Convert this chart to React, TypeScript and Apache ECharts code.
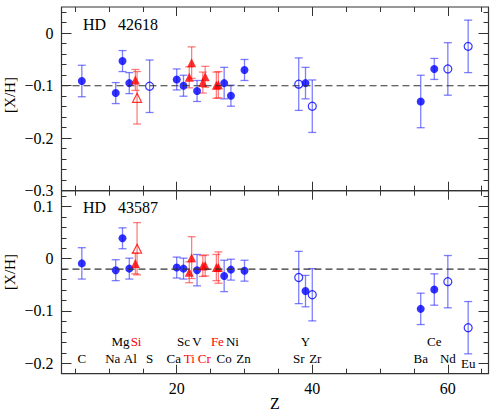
import React, { useEffect, useRef } from 'react';
import * as echarts from 'echarts';

// ---------- data ----------
const starTop = 'HD\u00a0\u00a0 42618';
const starBottom = 'HD\u00a0\u00a0 43587';

// Z axis
const X_MIN = 3;
const X_MAX = 66;
const xMajorTicks = [20, 40, 60];
const xMinorTicks = [5, 10, 15, 25, 30, 35, 45, 50, 55, 65];

// [X/H] ranges and ticks
const topYRange = [-0.3, 0.05];
const bottomYRange = [-0.22, 0.13];
const topYMajor = [-0.3, -0.2, -0.1, 0];
const bottomYMajor = [-0.2, -0.1, 0, 0.1];

// [Z, [X/H], error]  — HD 42618
const topBlueFilled = [
  [6, -0.091, 0.03], [11, -0.114, 0.02], [12, -0.053, 0.02], [13, -0.095, 0.02],
  [20, -0.088, 0.02], [21, -0.1, 0.02], [23, -0.11, 0.02], [27, -0.095, 0.03],
  [28, -0.119, 0.02], [30, -0.07, 0.02], [39, -0.095, 0.03], [56, -0.13, 0.05],
  [58, -0.068, 0.02],
];
const topBlueOpen = [
  [16, -0.101, 0.05], [38, -0.097, 0.05], [40, -0.139, 0.05], [60, -0.068, 0.05], [63, -0.025, 0.05],
];
const topRedFilled = [
  [13.9, -0.089, 0.02], [21.85, -0.084, 0.02], [22.2, -0.056, 0.03], [23.85, -0.094, 0.02],
  [24.2, -0.083, 0.02], [25.85, -0.099, 0.025], [26.15, -0.098, 0.025],
];
const topRedOpen = [[14.15, -0.123, 0.05]];
const topMean = -0.1;

// [Z, [X/H], error]  — HD 43587
const bottomBlueFilled = [
  [6, -0.009, 0.03], [11, -0.022, 0.02], [12, 0.039, 0.02], [13, -0.019, 0.02],
  [20, -0.017, 0.02], [21, -0.019, 0.02], [23, -0.022, 0.03], [27, -0.033, 0.03],
  [28, -0.021, 0.02], [30, -0.023, 0.02], [39, -0.062, 0.03], [56, -0.096, 0.03],
  [58, -0.059, 0.03],
];
const bottomBlueOpen = [
  [38, -0.036, 0.05], [40, -0.069, 0.05], [60, -0.044, 0.05], [63, -0.132, 0.05],
];
const bottomRedFilled = [
  [13.9, -0.009, 0.02], [21.85, -0.026, 0.02], [22.2, 0.002, 0.04], [23.85, -0.014, 0.02],
  [24.2, -0.013, 0.02], [25.85, -0.017, 0.025], [26.15, -0.017, 0.03],
];
const bottomRedOpen = [[14.15, 0.019, 0.05]];
const bottomMean = -0.02;

// element labels
const elementZ: Record<string, number> = {
  C: 6, Na: 11, Mg: 12, Al: 13, Si: 14, S: 16, Ca: 20, Sc: 21, Ti: 22, V: 23, Cr: 24,
  Fe: 26, Co: 27, Ni: 28, Zn: 30, Sr: 38, Y: 39, Zr: 40, Ba: 56, Ce: 58, Nd: 60, Eu: 63,
};
const upperRowElements = ['Mg', 'Si', 'Sc', 'V', 'Fe', 'Ni', 'Y', 'Ce'];
const lowerRowElements = ['C', 'Na', 'Al', 'S', 'Ca', 'Ti', 'Cr', 'Co', 'Zn', 'Sr', 'Zr', 'Ba', 'Nd', 'Eu'];
const redElements = ['Si', 'Ti', 'Cr', 'Fe'];

// ---------- styles ----------
const FONT = '"Liberation Serif", "Times New Roman", serif';
const BLUE = '#0000ff';
const RED = '#ff0000';
const BLUE_ERR = 'rgba(40,40,255,0.6)';
const RED_ERR = 'rgba(255,40,40,0.6)';
const FRAME = '#333333';
const labelDx: Record<string, number> = { Mg: -2, Na: -3, Al: 1, Ca: -3, Zr: 3, Zn: -1, Ni: 1.5, Ti: -1, Cr: 0.5 };
const labelDy: Record<string, number> = { Eu: 5 };

function minorTicks(lo: number, hi: number): number[] {
  const out: number[] = [];
  for (let i = Math.round(lo / 0.02); i * 0.02 <= hi + 1e-9; i++) {
    if (i % 5 !== 0) out.push(Math.round(i * 0.02 * 1000) / 1000);
  }
  return out;
}

const fmtY = (v: number) => {
  const r = Math.round(v * 10) / 10;
  return r < 0 ? '\u2212' + Math.abs(r) : String(Math.abs(r));
};

function xAxis(grid: number, pos: string, ticks: number[], len: number, labels: boolean) {
  return {
    type: 'value', gridIndex: grid, position: pos, min: X_MIN, max: X_MAX,
    axisLine: { show: false, onZero: false }, splitLine: { show: false },
    axisTick: { show: true, inside: true, length: len, customValues: ticks, lineStyle: { color: FRAME, width: 1 } },
    axisLabel: labels
      ? { show: true, customValues: xMajorTicks, margin: 7, color: '#000', fontFamily: FONT, fontSize: 16 }
      : { show: false },
  };
}

function yAxis(grid: number, pos: string, range: number[], ticks: number[], len: number, labels: number[] | null) {
  return {
    type: 'value', gridIndex: grid, position: pos, min: range[0], max: range[1],
    axisLine: { show: false, onZero: false }, splitLine: { show: false },
    axisTick: { show: true, inside: true, length: len, customValues: ticks, lineStyle: { color: FRAME, width: 1 } },
    axisLabel: labels
      ? { show: true, customValues: labels, formatter: fmtY, margin: 8, color: '#000', fontFamily: FONT, fontSize: 16 }
      : { show: false },
  };
}

function errSeries(data: number[][], color: string, ai: number) {
  return {
    type: 'custom', xAxisIndex: ai, yAxisIndex: ai, z: 2, silent: true,
    encode: { x: 0, y: 1 },
    data,
    renderItem: (params: any, api: any) => {
      const x = api.value(0), y = api.value(1), e = api.value(2);
      const t = api.coord([x, y + e]);
      const b = api.coord([x, y - e]);
      const cw = 4;
      const style = { stroke: color, lineWidth: 1.3, fill: 'none' };
      return {
        type: 'group', children: [
          { type: 'line', shape: { x1: t[0], y1: t[1], x2: b[0], y2: b[1] }, style },
          { type: 'line', shape: { x1: t[0] - cw, y1: t[1], x2: t[0] + cw, y2: t[1] }, style },
          { type: 'line', shape: { x1: b[0] - cw, y1: b[1], x2: b[0] + cw, y2: b[1] }, style },
        ],
      };
    },
  };
}

function markerSeries(data: number[][], symbol: string, color: string, open: boolean, ai: number) {
  return {
    type: 'scatter', xAxisIndex: ai, yAxisIndex: ai, z: 4, silent: true,
    symbol, symbolSize: symbol === 'circle' ? 8 : 9,
    itemStyle: open
      ? { color: 'rgba(0,0,0,0)', borderColor: color, borderWidth: 1.2 }
      : { color, borderWidth: 0 },
    data: data.map((d) => [d[0], d[1]]),
  };
}

function meanLine(v: number, ai: number) {
  return {
    type: 'line', xAxisIndex: ai, yAxisIndex: ai, z: 6, silent: true, symbol: 'none',
    lineStyle: { color: '#333', width: 1.2, type: [7, 4] },
    data: [[X_MIN, v], [X_MAX, v]],
  };
}

export default function App() {
  const ref = useRef<HTMLDivElement>(null);
  useEffect(() => {
    if (!ref.current) return;
    const chart = echarts.init(ref.current, undefined, { renderer: 'svg' });

    const GL = 61.5, GW = 427;
    const grids = [
      { left: GL, top: 7, width: GW, height: 183.7, show: true, borderColor: FRAME, borderWidth: 1.2, backgroundColor: 'transparent' },
      { left: GL, top: 190.7, width: GW, height: 183, show: true, borderColor: FRAME, borderWidth: 1.2, backgroundColor: 'transparent' },
    ];

    // axis index ai = 0 (top grid) and 4 (bottom grid) carry the data
    const xAxes = [
      xAxis(0, 'bottom', xMajorTicks, 9, false), xAxis(0, 'bottom', xMinorTicks, 5, false),
      xAxis(0, 'top', xMajorTicks, 9, false), xAxis(0, 'top', xMinorTicks, 5, false),
      xAxis(1, 'bottom', xMajorTicks, 9, true), xAxis(1, 'bottom', xMinorTicks, 5, false),
      xAxis(1, 'top', xMajorTicks, 9, false), xAxis(1, 'top', xMinorTicks, 5, false),
    ];
    const tMin = minorTicks(topYRange[0], topYRange[1]);
    const bMin = minorTicks(bottomYRange[0], bottomYRange[1]);
    const yAxes = [
      yAxis(0, 'left', topYRange, topYMajor, 10, topYMajor), yAxis(0, 'left', topYRange, tMin, 5, null),
      yAxis(0, 'right', topYRange, topYMajor, 10, null), yAxis(0, 'right', topYRange, tMin, 5, null),
      yAxis(1, 'left', bottomYRange, bottomYMajor, 10, bottomYMajor), yAxis(1, 'left', bottomYRange, bMin, 5, null),
      yAxis(1, 'right', bottomYRange, bottomYMajor, 10, null), yAxis(1, 'right', bottomYRange, bMin, 5, null),
    ];

    const labelItems = [
      ...upperRowElements.map((n) => ({ n, row: 0 })),
      ...lowerRowElements.map((n) => ({ n, row: 1 })),
    ];
    const labelSeries = {
      type: 'custom', xAxisIndex: 4, yAxisIndex: 4, z: 7, silent: true,
      data: labelItems.map((it) => [elementZ[it.n], bottomYRange[0]]),
      encode: { x: 0, y: 1 },
      renderItem: (params: any, api: any) => {
        const it = labelItems[params.dataIndex];
        const p = api.coord([api.value(0), api.value(1)]);
        const off = it.row === 0 ? 32 : 15.5;
        return {
          type: 'text',
          x: p[0] + (labelDx[it.n] || 0),
          y: p[1] - off + (labelDy[it.n] || 0),
          style: {
            text: it.n,
            fill: redElements.includes(it.n) ? RED : '#000',
            font: `13px ${FONT}`,
            align: 'center',
            verticalAlign: 'middle',
          },
        };
      },
    };

    const series: any[] = [];
    const panels = [
      { ai: 0, bf: topBlueFilled, bo: topBlueOpen, rf: topRedFilled, ro: topRedOpen, mean: topMean },
      { ai: 4, bf: bottomBlueFilled, bo: bottomBlueOpen, rf: bottomRedFilled, ro: bottomRedOpen, mean: bottomMean },
    ];
    panels.forEach((p) => {
      series.push(errSeries(p.bf, BLUE_ERR, p.ai));
      series.push(errSeries(p.bo, BLUE_ERR, p.ai));
      series.push(errSeries(p.rf, RED_ERR, p.ai));
      series.push(errSeries(p.ro, RED_ERR, p.ai));
      series.push(markerSeries(p.bf, 'circle', BLUE, false, p.ai));
      series.push(markerSeries(p.bo, 'circle', BLUE, true, p.ai));
      series.push(markerSeries(p.rf, 'triangle', RED, false, p.ai));
      series.push(markerSeries(p.ro, 'triangle', RED, true, p.ai));
      series.push(meanLine(p.mean, p.ai));
    });
    series.push(labelSeries);

    const textStyle = (text: string, size: number) => ({
      text, fill: '#000', font: `${size}px ${FONT}`, align: 'left', verticalAlign: 'middle',
    });

    chart.setOption({
      animation: false,
      backgroundColor: '#fff',
      grid: grids,
      xAxis: xAxes,
      yAxis: yAxes,
      series,
      graphic: [
        { type: 'text', x: 83, y: 24.5, style: textStyle(starTop, 16) },
        { type: 'text', x: 83, y: 207.5, style: textStyle(starBottom, 16) },
        { type: 'text', x: 9.5, y: 95, rotation: Math.PI / 2, style: { ...textStyle('[X/H]', 15), align: 'center' } },
        { type: 'text', x: 9.5, y: 272, rotation: Math.PI / 2, style: { ...textStyle('[X/H]', 15), align: 'center' } },
        { type: 'text', x: 275, y: 403, style: { ...textStyle('Z', 16), align: 'center' } },
      ],
    });
    return () => chart.dispose();
  }, []);

  return <div ref={ref} style={{ position: 'absolute', left: 0, top: 0, width: 491, height: 418 }} />;
}
